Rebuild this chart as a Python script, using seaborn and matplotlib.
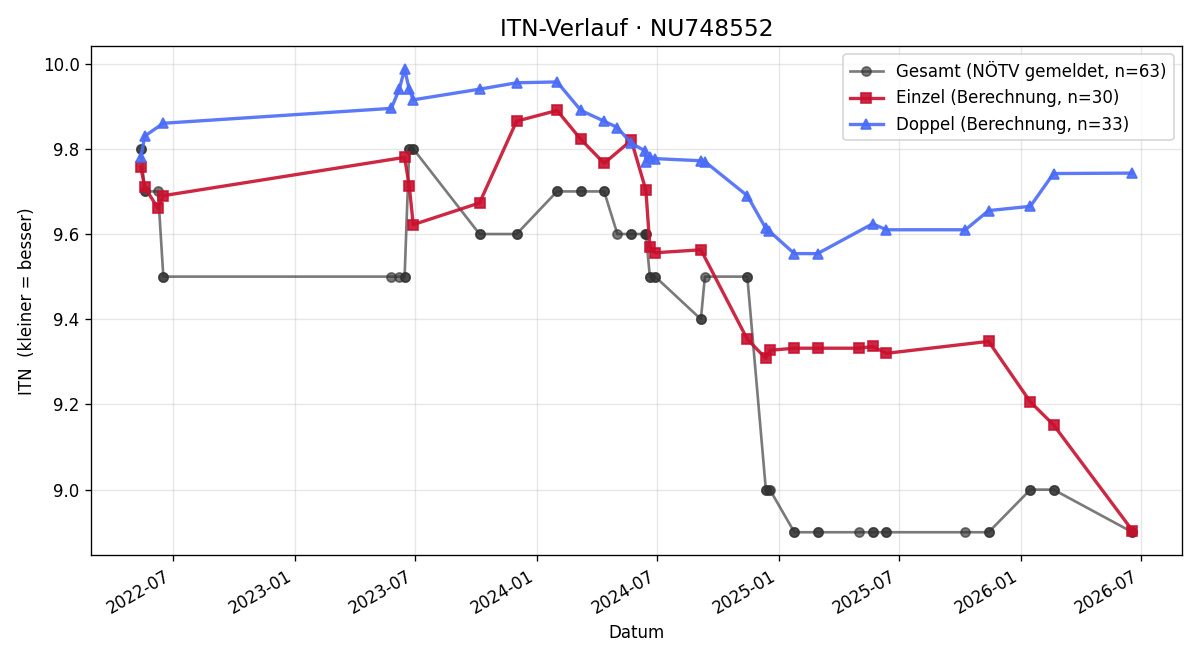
"""
ITN-Verlauf fuer einen Spieler: gemeldete Gesamt-ITN vs. berechnete Einzel/Doppel-ITN
"""

import pandas as pd
import matplotlib.pyplot as plt
import matplotlib.dates as mdates
import seaborn as sns

# ==============================
# 1. Daten
# ==============================
einzel_datum = [
    "2022-05-14", "2022-05-20", "2022-06-09", "2022-06-17", "2023-06-16",
    "2023-06-23", "2023-06-29", "2023-10-07", "2023-12-02", "2024-02-01",
    "2024-03-08", "2024-04-12", "2024-05-23", "2024-06-14", "2024-06-20",
    "2024-06-28", "2024-09-05", "2024-11-14", "2024-12-12", "2024-12-18",
    "2025-01-24", "2025-02-28", "2025-05-02", "2025-05-22", "2025-06-12",
    "2025-11-13", "2026-01-15", "2026-02-19", "2026-06-18",
]
einzel_itn = [
    9.757, 9.710, 9.660, 9.690, 9.780,
    9.713, 9.622, 9.673, 9.865, 9.890,
    9.822, 9.766, 9.820, 9.703, 9.570,
    9.556, 9.563, 9.353, 9.308, 9.327,
    9.332, 9.332, 9.332, 9.336, 9.320,
    9.348, 9.206, 9.152, 8.904,
]
einzel_gesamt = [
    9.8, 9.7, 9.7, 9.5, 9.5,
    9.8, 9.8, 9.6, 9.6, 9.7,
    9.7, 9.7, 9.6, 9.6, 9.5,
    9.5, 9.4, 9.5, 9.0, 9.0,
    8.9, 8.9, 8.9, 8.9, 8.9,
    8.9, 9.0, 9.0, 8.9,
]

doppel_datum = [
    "2022-05-14", "2022-05-20", "2022-06-17", "2023-05-27", "2023-06-08",
    "2023-06-16", "2023-06-23", "2023-06-29", "2023-10-07", "2023-12-02",
    "2024-02-01", "2024-03-08", "2024-04-12", "2024-05-02", "2024-05-23",
    "2024-06-13", "2024-06-14", "2024-06-20", "2024-06-28", "2024-09-05",
    "2024-09-11", "2024-11-14", "2024-12-12", "2024-12-17", "2025-01-24",
    "2025-02-28", "2025-05-22", "2025-06-12", "2025-10-09", "2025-11-13",
    "2026-01-15", "2026-02-19", "2026-06-18",
]
doppel_itn = [
    9.780, 9.830, 9.860, 9.895, 9.940,
    9.987, 9.940, 9.915, 9.940, 9.955,
    9.957, 9.890, 9.865, 9.850, 9.813,
    9.795, 9.770, 9.780, 9.777, 9.772,
    9.770, 9.690, 9.613, 9.607, 9.554,
    9.554, 9.624, 9.610, 9.610, 9.655,
    9.665, 9.742, 9.743,
]
doppel_gesamt = [
    9.8, 9.7, 9.5, 9.5, 9.5,
    9.5, 9.8, 9.8, 9.6, 9.6,
    9.7, 9.7, 9.7, 9.6, 9.6,
    9.6, 9.6, 9.5, 9.5, 9.4,
    9.5, 9.5, 9.0, 9.0, 8.9,
    8.9, 8.9, 8.9, 8.9, 8.9,
    9.0, 9.0, 8.9,
]

df_e = pd.DataFrame({"datum": pd.to_datetime(einzel_datum), "itn": einzel_itn, "gesamt": einzel_gesamt})
df_d = pd.DataFrame({"datum": pd.to_datetime(doppel_datum), "itn": doppel_itn, "gesamt": doppel_gesamt})
df_g = pd.concat([df_e, df_d]).sort_values("datum", kind="stable")

# ==============================
# 2. Plot
# ==============================
fig, ax = plt.subplots(figsize=(10, 5.5), dpi=120)

sns.lineplot(data=df_g, x="datum", y="gesamt", estimator=None, sort=False, ax=ax,
             color="#333333", alpha=0.65, linewidth=1.6, marker="o", markersize=5.5,
             markeredgecolor="#333333", markeredgewidth=1,
             label="Gesamt (NÖTV gemeldet, n=63)")
sns.lineplot(data=df_e, x="datum", y="itn", estimator=None, sort=False, ax=ax,
             color="#c8102e", alpha=0.9, linewidth=2, marker="s", markersize=6.5,
             markeredgecolor="#c8102e", markeredgewidth=1,
             label="Einzel (Berechnung, n=30)")
sns.lineplot(data=df_d, x="datum", y="itn", estimator=None, sort=False, ax=ax,
             color="#4a6cf7", alpha=0.9, linewidth=2, marker="^", markersize=6.5,
             markeredgecolor="#4a6cf7", markeredgewidth=1,
             label="Doppel (Berechnung, n=33)")

ax.set_title("ITN-Verlauf · NU748552", fontsize=14)
ax.set_xlabel("Datum")
ax.set_ylabel("ITN  (kleiner = besser)")
ax.grid(True, alpha=0.3)
ax.xaxis.set_major_locator(mdates.MonthLocator(bymonth=[1, 7]))
ax.xaxis.set_major_formatter(mdates.DateFormatter("%Y-%m"))
ax.legend(loc="upper right")
fig.autofmt_xdate()

plt.tight_layout()
plt.savefig("out.png")
